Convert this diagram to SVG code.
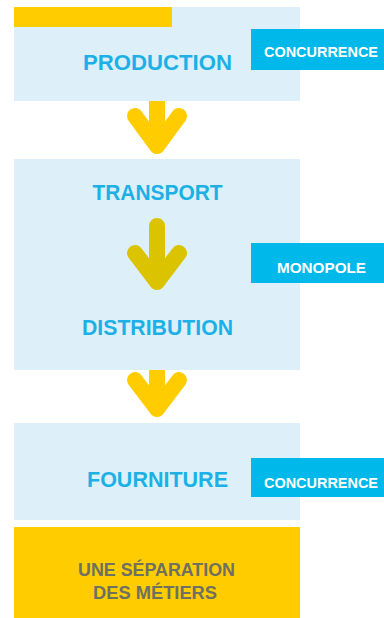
<svg xmlns="http://www.w3.org/2000/svg" width="384" height="618" viewBox="0 0 384 618">
  <style>
    .box { fill: #DDF0FA; }
    .yellow { fill: #FFCC00; }
    .badge { fill: #00B9EA; }
    .label { font-family: "Liberation Sans", Arial, sans-serif; font-weight: bold; font-size: 22.5px; fill: #1CB0E6; text-anchor: middle; }
    .badge-text { font-family: "Liberation Sans", Arial, sans-serif; font-weight: bold; font-size: 15px; fill: #FFFFFF; text-anchor: middle; }
    .note { font-family: "Liberation Sans", Arial, sans-serif; font-weight: bold; font-size: 18px; fill: #6E7060; text-anchor: middle; }
    .arrow { fill: none; stroke-width: 16; stroke-linecap: round; stroke-linejoin: round; }
    .arrow-a { stroke: #FFCC00; }
    .arrow-b { stroke: #DCC300; }
  </style>

  <!-- connectors (drawn first so the boxes cover the shaft tops) -->
  <g id="connectors">
    <path class="arrow arrow-a" d="M157,95 V146 M135,116 L157,146 L179,116"/>
    <path class="arrow arrow-a" d="M157,362 V409 M135,380 L157,409 L179,380"/>
  </g>

  <g id="production">
    <rect class="box" x="14" y="7" width="286" height="94"/>
    <rect class="yellow" x="14" y="7" width="158" height="20"/>
    <text class="label" x="157.5" y="70" textLength="149" lengthAdjust="spacingAndGlyphs">PRODUCTION</text>
  </g>

  <g id="badge-concurrence-1">
    <rect class="badge" x="251" y="29" width="133" height="41"/>
    <text class="badge-text" x="321" y="57" textLength="114" lengthAdjust="spacingAndGlyphs">CONCURRENCE</text>
  </g>

  <g id="transport-distribution">
    <rect class="box" x="14" y="159" width="286" height="211"/>
    <text class="label" x="157.5" y="200" textLength="130" lengthAdjust="spacingAndGlyphs">TRANSPORT</text>
    <path class="arrow arrow-b" d="M157,226 V282 M135,253 L157,282 L179,253"/>
    <text class="label" x="157.5" y="335" textLength="151" lengthAdjust="spacingAndGlyphs">DISTRIBUTION</text>
  </g>

  <g id="badge-monopole">
    <rect class="badge" x="251" y="243" width="133" height="40"/>
    <text class="badge-text" x="321.5" y="272.5" textLength="89" lengthAdjust="spacingAndGlyphs">MONOPOLE</text>
  </g>

  <g id="fourniture">
    <rect class="box" x="14" y="423" width="286" height="97"/>
    <text class="label" x="157.5" y="487" textLength="141" lengthAdjust="spacingAndGlyphs">FOURNITURE</text>
  </g>

  <g id="badge-concurrence-2">
    <rect class="badge" x="251" y="458" width="133" height="39"/>
    <text class="badge-text" x="321" y="487.5" textLength="114" lengthAdjust="spacingAndGlyphs">CONCURRENCE</text>
  </g>

  <g id="separation">
    <rect class="yellow" x="14" y="527" width="286" height="91"/>
    <text class="note" x="156.5" y="576" textLength="157" lengthAdjust="spacingAndGlyphs">UNE SÉPARATION</text>
    <text class="note" x="155" y="598.5" textLength="124" lengthAdjust="spacingAndGlyphs">DES MÉTIERS</text>
  </g>
</svg>
